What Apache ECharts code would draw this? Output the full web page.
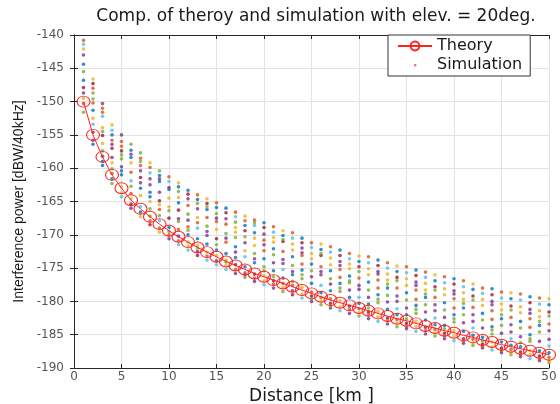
<!DOCTYPE html>
<html>
<head>
<meta charset="utf-8">
<title>Interference power vs distance</title>
<script src="https://cdn.jsdelivr.net/npm/echarts@6/dist/echarts.min.js"></script>
<style>
  html, body { margin: 0; padding: 0; background: #fff; }
  #chart { width: 560px; height: 404px; }
</style>
</head>
<body>
<div id="chart"></div>
<script>
// Distance samples [km]
const distances = [1,2,3,4,5,6,7,8,9,10,11,12,13,14,15,16,17,18,19,20,21,22,23,24,25,
  26,27,28,29,30,31,32,33,34,35,36,37,38,39,40,41,42,43,44,45,46,47,48,49,50];

// Theoretical interference power [dBW/40kHz]
const theory = [-150.0,-155.0,-158.3,-161.0,-163.0,-164.8,-166.1,-167.3,-168.4,-169.4,
  -170.3,-171.1,-171.9,-172.6,-173.3,-174.0,-174.6,-175.2,-175.8,-176.3,
  -176.8,-177.3,-177.8,-178.3,-178.8,-179.3,-179.8,-180.2,-180.6,-181.0,
  -181.4,-181.8,-182.2,-182.6,-182.9,-183.3,-183.7,-184.0,-184.4,-184.7,
  -185.1,-185.4,-185.8,-186.1,-186.5,-186.8,-187.1,-187.4,-187.7,-188.0];

// Simulated interference power: one row per distance, one entry per run
const simulation = [
  [-146.8,-140.8,-149.5,-143.0,-151.6,-141.4,-147.9,-144.4,-150.3,-142.1,-148.7,-145.5],
  [-151.3,-148.0,-146.6,-155.8,-149.6,-153.4,-147.3,-156.4,-150.2,-152.5,-154.6,-148.7],
  [-159.0,-151.0,-153.9,-150.3,-157.4,-152.2,-155.1,-159.6,-151.6,-156.3,-158.2,-154.5],
  [-155.0,-160.8,-153.5,-158.4,-162.3,-154.3,-157.0,-161.6,-155.8,-159.2,-156.4,-160.1],
  [-160.4,-156.0,-163.7,-155.0,-158.6,-164.3,-157.4,-161.0,-156.7,-162.8,-159.8,-158.0],
  [-157.3,-163.8,-159.2,-166.0,-156.4,-161.9,-165.4,-158.4,-160.6,-164.6,-157.9,-162.7],
  [-163.0,-158.5,-167.3,-160.4,-157.7,-165.8,-161.4,-166.6,-159.6,-164.1,-162.2,-159.0],
  [-164.3,-167.9,-159.2,-162.5,-166.1,-160.7,-168.5,-163.6,-159.9,-165.0,-161.6,-167.2],
  [-161.1,-166.2,-169.6,-163.6,-160.4,-167.9,-164.9,-162.0,-169.0,-165.5,-161.6,-167.1],
  [-168.9,-161.3,-164.5,-170.6,-166.4,-162.0,-167.5,-163.2,-170.0,-165.8,-162.9,-169.5],
  [-165.2,-170.9,-162.2,-167.6,-163.5,-171.5,-166.3,-162.8,-169.2,-164.4,-170.2,-168.0],
  [-163.3,-168.8,-171.7,-164.6,-166.9,-172.3,-163.9,-170.0,-165.6,-171.1,-167.8,-169.3],
  [-170.6,-164.0,-167.4,-172.5,-165.3,-169.0,-173.1,-164.7,-168.2,-171.6,-166.1,-172.0],
  [-166.2,-173.2,-164.6,-170.1,-168.7,-173.8,-165.3,-171.4,-167.4,-172.6,-169.5,-165.8],
  [-172.3,-165.2,-169.2,-173.9,-166.8,-174.5,-170.6,-165.9,-168.0,-173.1,-167.5,-171.5],
  [-166.0,-171.1,-174.6,-167.6,-169.8,-175.2,-166.7,-172.8,-168.4,-173.8,-170.5,-174.1],
  [-173.4,-166.6,-168.9,-175.8,-170.4,-167.3,-174.5,-171.8,-175.2,-169.6,-172.6,-168.1],
  [-168.6,-175.7,-167.2,-171.2,-176.4,-173.3,-169.4,-174.8,-167.9,-172.4,-176.0,-170.3],
  [-174.2,-167.8,-170.5,-177.0,-172.8,-168.6,-175.9,-169.7,-176.5,-171.6,-173.6,-168.2],
  [-168.2,-172.4,-176.9,-169.9,-174.8,-177.5,-168.9,-173.6,-170.8,-176.1,-171.5,-175.4],
  [-175.4,-168.8,-171.1,-178.0,-173.0,-169.6,-176.9,-172.1,-177.4,-170.4,-174.2,-176.3],
  [-170.1,-177.3,-169.4,-173.7,-178.5,-175.2,-171.0,-176.5,-172.5,-177.9,-174.3,-170.7],
  [-176.0,-169.7,-172.3,-178.4,-174.6,-170.5,-179.0,-173.3,-177.6,-171.4,-175.5,-177.0],
  [-170.5,-174.4,-178.9,-172.0,-176.6,-179.5,-171.2,-175.3,-173.1,-177.9,-172.7,-176.0],
  [-177.3,-171.2,-173.6,-180.0,-175.4,-171.9,-179.2,-174.4,-178.6,-172.8,-176.3,-179.6],
  [-172.2,-179.4,-171.4,-176.0,-180.5,-177.6,-173.1,-178.7,-174.8,-179.9,-175.5,-172.8],
  [-178.4,-171.8,-174.5,-181.0,-176.6,-172.6,-180.3,-175.4,-179.6,-173.5,-177.4,-180.7],
  [-172.3,-176.4,-180.8,-174.0,-178.5,-181.4,-173.1,-177.3,-175.2,-179.9,-174.6,-178.0],
  [-179.4,-172.8,-175.1,-181.8,-177.2,-173.6,-180.7,-176.2,-181.2,-174.4,-178.3,-176.9],
  [-174.0,-181.1,-173.2,-177.6,-182.2,-179.4,-174.8,-180.3,-176.5,-181.7,-178.2,-175.5],
  [-180.4,-173.3,-176.0,-182.6,-178.3,-174.2,-181.6,-177.1,-182.0,-175.1,-179.4,-181.0],
  [-173.8,-178.0,-182.3,-175.5,-180.2,-183.0,-174.6,-179.0,-176.8,-181.5,-175.9,-179.7],
  [-181.2,-174.2,-176.8,-183.4,-179.1,-175.0,-182.5,-178.0,-182.9,-175.9,-180.1,-177.4],
  [-175.5,-182.7,-174.7,-179.2,-183.8,-181.1,-176.4,-182.0,-178.0,-183.2,-180.0,-176.9],
  [-182.0,-174.8,-177.6,-184.1,-179.8,-175.7,-183.3,-178.7,-183.8,-176.6,-181.0,-182.6],
  [-175.3,-179.7,-183.8,-177.1,-181.8,-184.5,-176.1,-180.6,-178.3,-183.0,-177.6,-181.2],
  [-182.8,-175.6,-178.3,-184.9,-180.5,-176.4,-183.9,-179.4,-184.4,-177.3,-181.6,-178.9],
  [-176.9,-184.2,-176.0,-180.5,-185.2,-182.5,-177.8,-183.5,-179.4,-184.7,-181.4,-178.3],
  [-183.6,-176.3,-179.0,-185.6,-181.3,-177.2,-184.8,-180.2,-185.2,-178.1,-182.4,-184.1],
  [-176.6,-181.0,-185.2,-178.4,-183.1,-185.9,-177.4,-182.0,-179.6,-184.4,-178.9,-182.6],
  [-184.5,-176.9,-179.7,-186.3,-182.0,-177.8,-185.6,-181.0,-186.0,-178.7,-183.2,-180.3],
  [-178.2,-185.7,-177.4,-182.0,-186.6,-184.0,-179.2,-185.1,-180.9,-186.2,-183.0,-179.8],
  [-185.4,-178.0,-180.6,-187.0,-182.8,-178.8,-186.4,-181.8,-186.8,-179.7,-184.0,-185.9],
  [-178.1,-182.7,-186.8,-180.0,-184.9,-187.3,-179.0,-183.8,-181.4,-186.1,-180.5,-184.3],
  [-186.1,-178.6,-181.3,-187.7,-183.6,-179.5,-187.0,-182.6,-187.4,-180.4,-184.8,-182.0],
  [-179.6,-187.2,-178.7,-183.5,-188.0,-185.6,-180.7,-186.6,-182.4,-187.7,-184.6,-181.3],
  [-186.8,-178.9,-181.7,-188.3,-184.0,-179.8,-187.6,-183.0,-188.0,-180.8,-185.3,-186.2],
  [-179.3,-183.9,-188.0,-181.2,-186.0,-188.6,-180.2,-185.0,-182.6,-187.4,-181.8,-185.6],
  [-187.4,-179.5,-182.3,-188.9,-184.6,-180.4,-188.2,-183.6,-188.6,-181.4,-186.0,-183.0],
  [-180.5,-188.4,-179.6,-184.4,-189.2,-186.7,-181.6,-187.7,-183.4,-188.9,-185.7,-182.2]
];

const xTicks = [0, 50, 5];      // min, max, step
const yTicks = [-190, -140, 5]; // min, max, step

// Default line colour order used for the simulation runs
const runColors = ['#0072BD','#D95319','#EDB120','#7E2F8E','#77AC30','#4DBEEE','#A2142F'];

const FONT = 'DejaVu Sans, Verdana, sans-serif';
const FONT_NARROW = 'Liberation Sans, Arial, Helvetica, sans-serif';
const AXIS_COLOR = '#262626';
const LABEL_COLOR = '#555555';
const THEORY_RED = '#ff2020';

// Small centred dot used as the legend glyph of the simulation runs
const DOT_ICON = 'path://M0,0M12,12M5,5h2.4v2.4h-2.4z';

const chart = echarts.init(document.getElementById('chart'), null, { renderer: 'canvas' });

const runCount = simulation[0].length;
const simSeries = [];
for (let k = 0; k < runCount; k++) {
  simSeries.push({
    name: 'Simulation',
    type: 'scatter',
    xAxisIndex: 0,
    yAxisIndex: 0,
    symbol: 'circle',
    symbolSize: 3.6,
    itemStyle: { color: runColors[k % runColors.length] },
    data: distances.map((d, i) => [d, simulation[i][k]]),
    z: 2,
    silent: true
  });
}

const valueAxisBase = (range) => ({
  type: 'value',
  min: range[0],
  max: range[1],
  interval: range[2]
});

const option = {
  backgroundColor: '#ffffff',
  animation: false,
  title: {
    text: 'Comp. of theroy and simulation with elev. = 20deg.',
    left: 311,
    textAlign: 'center',
    top: 3,
    textStyle: { fontFamily: FONT, fontSize: 17, fontWeight: 'normal', color: '#1a1a1a' }
  },
  grid: {
    left: 74, right: 11, top: 35, bottom: 36,
    show: false,
    containLabel: false,
    outerBoundsMode: 'none'
  },
  legend: {
    orient: 'vertical',
    left: 388,
    top: 35,
    padding: [3, 8, 3, 9],
    itemGap: 3,
    itemWidth: 34,
    itemHeight: 11,
    borderColor: '#333333',
    borderWidth: 1,
    borderRadius: 0,
    backgroundColor: '#ffffff',
    textStyle: { fontFamily: FONT, fontSize: 16, color: '#1a1a1a' },
    data: [
      { name: 'Theory' },
      { name: 'Simulation', icon: DOT_ICON, itemStyle: { color: '#e8404c' } }
    ]
  },
  xAxis: [
    Object.assign(valueAxisBase(xTicks), {
      position: 'bottom',
      name: 'Distance [km ]',
      nameLocation: 'middle',
      nameGap: 15,
      nameTextStyle: { fontFamily: FONT, fontSize: 17, color: '#1a1a1a' },
      axisLine: { show: true, onZero: false, lineStyle: { color: AXIS_COLOR, width: 1 } },
      axisTick: { show: true, inside: true, length: 4, lineStyle: { color: AXIS_COLOR } },
      axisLabel: { fontFamily: FONT, fontSize: 12, color: LABEL_COLOR, margin: 3 },
      splitLine: { show: true, lineStyle: { color: '#e3e3e3', width: 1 } }
    }),
    Object.assign(valueAxisBase(xTicks), {
      position: 'top',
      axisLine: { show: true, lineStyle: { color: AXIS_COLOR, width: 1 } },
      axisTick: { show: true, inside: true, length: 4, lineStyle: { color: AXIS_COLOR } },
      axisLabel: { show: false },
      splitLine: { show: false }
    })
  ],
  yAxis: [
    Object.assign(valueAxisBase(yTicks), {
      position: 'left',
      name: 'Interference power [dBW/40kHz]',
      nameLocation: 'middle',
      nameGap: 47,
      nameTextStyle: { fontFamily: FONT_NARROW, fontSize: 14, color: '#1a1a1a' },
      axisLine: { show: true, onZero: false, lineStyle: { color: AXIS_COLOR, width: 1 } },
      axisTick: { show: true, inside: true, length: 4, lineStyle: { color: AXIS_COLOR } },
      axisLabel: { fontFamily: FONT, fontSize: 12, color: LABEL_COLOR, margin: 10 },
      splitLine: { show: true, lineStyle: { color: '#e3e3e3', width: 1 } }
    }),
    Object.assign(valueAxisBase(yTicks), {
      position: 'right',
      axisLine: { show: true, lineStyle: { color: AXIS_COLOR, width: 1 } },
      axisTick: { show: true, inside: true, length: 4, lineStyle: { color: AXIS_COLOR } },
      axisLabel: { show: false },
      splitLine: { show: false }
    })
  ],
  series: [
    ...simSeries,
    {
      name: 'Theory',
      type: 'line',
      xAxisIndex: 0,
      yAxisIndex: 0,
      data: distances.map((d, i) => [d, theory[i]]),
      symbol: 'circle',
      symbolSize: [13, 11],
      showAllSymbol: true,
      lineStyle: { color: THEORY_RED, width: 1 },
      itemStyle: { color: 'rgba(255,255,255,0)', borderColor: THEORY_RED, borderWidth: 1 },
      z: 5,
      silent: true
    }
  ]
};

chart.setOption(option);
</script>
</body>
</html>
